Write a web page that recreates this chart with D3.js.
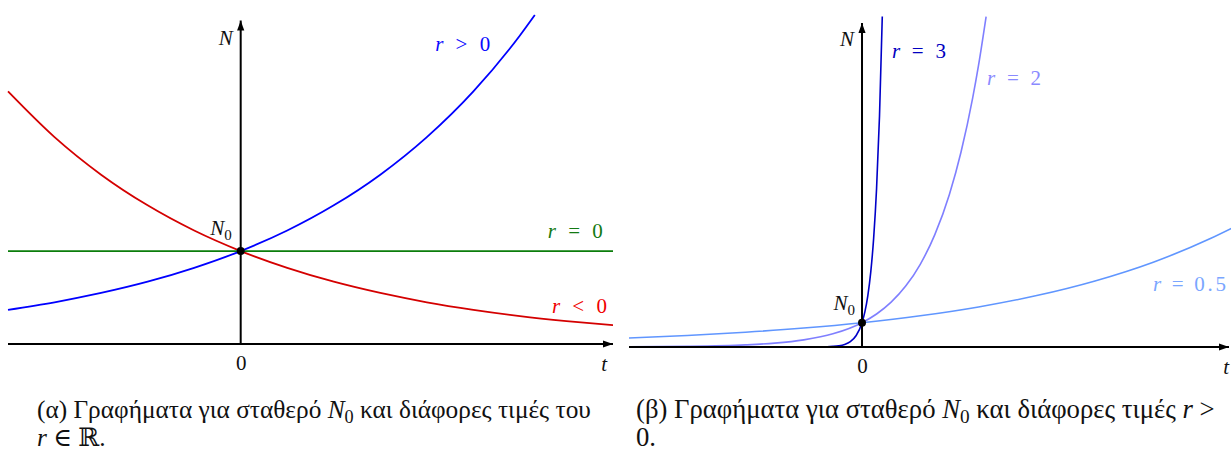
<!DOCTYPE html>
<html>
<head>
<meta charset="utf-8">
<script src="https://cdn.jsdelivr.net/npm/d3@7"></script>
<style>
  html, body { margin: 0; padding: 0; background: #fff; }
  svg { display: block; }
</style>
</head>
<body>
<svg id="chart" width="1231" height="456"></svg>
<script>
// ---------- data: exponential growth N(t) = N0·e^{rt}, N0 = 1 ----------
// panel (α): one growing, one flat and one decaying population
const tGrowA  = [-2.5, -2, -1.5, -1, -0.5, 0, 0.5, 1, 1.5, 2, 2.5, 3, 3.16];
const nGrowA  = [0.368, 0.449, 0.549, 0.670, 0.819, 1, 1.221, 1.492, 1.822, 2.226, 2.718, 3.320, 3.54];
const tFlatA  = [-2.5, 4];
const nFlatA  = [1, 1];
const tDecayA = [-2.5, -2, -1.5, -1, -0.5, 0, 0.5, 1, 1.5, 2, 2.5, 3, 3.5, 4];
const nDecayA = [2.718, 2.226, 1.822, 1.492, 1.221, 1, 0.819, 0.670, 0.549, 0.449, 0.368, 0.301, 0.247, 0.202];
const labelsA = ["r > 0", "r = 0", "r < 0"];

// panel (β): three positive rates
const tR3  = [-2, -1, -0.5, -0.3, -0.25, -0.2, -0.15, -0.1, -0.05, 0, 0.025, 0.05, 0.075, 0.1, 0.125, 0.15, 0.174];
const nR3  = [0, 0, 0.0006, 0.011, 0.024, 0.050, 0.105, 0.223, 0.472, 1, 1.455, 2.117, 3.080, 4.482, 6.521, 9.488, 13.60];
const tR2  = [-2, -1.5, -1, -0.75, -0.5, -0.25, 0, 0.125, 0.25, 0.375, 0.5, 0.625, 0.75, 0.85, 0.95, 1.0, 1.065];
const nR2  = [0.0075, 0.025, 0.086, 0.159, 0.294, 0.542, 1, 1.358, 1.846, 2.506, 3.404, 4.624, 6.278, 8.024, 10.25, 11.59, 13.59];
const tR05 = [-2, -1.5, -1, -0.5, 0, 0.5, 1, 1.5, 2, 2.5, 3, 3.17];
const nR05 = [0.368, 0.472, 0.607, 0.779, 1, 1.284, 1.649, 2.117, 2.718, 3.490, 4.482, 4.876];
const labelsB = ["r = 3", "r = 2", "r = 0.5"];

const N0 = 1;
const tickLabels = [0];

// ---------- drawing ----------
const SERIF = "'Liberation Serif', 'Times New Roman', 'DejaVu Serif', serif";

const svg = d3.select("#chart");
const defs = svg.append("defs");
defs.append("marker")
    .attr("id", "arrow")
    .attr("viewBox", "0 -4 10 8")
    .attr("refX", 10).attr("refY", 0)
    .attr("markerWidth", 10).attr("markerHeight", 8)
    .attr("markerUnits", "userSpaceOnUse")
    .attr("orient", "auto")
  .append("path")
    .attr("d", "M0,-3.6L10,0L0,3.6Z")
    .attr("fill", "#000");

// label text such as "r > 0": italic variable, upright relation and number
function mathLabel(g, str, x, y, anchor, width, color) {
  const [v, rel, num] = str.split(" ");
  const t = g.append("text")
      .style("font-family", SERIF)
      .attr("x", x).attr("y", y)
      .attr("text-anchor", anchor)
      .attr("font-size", 21)
      .attr("fill", color);
  t.append("tspan").style("font-style", "italic").text(v);
  t.append("tspan").text(" " + rel + " ");
  t.append("tspan").text(num);
  if (width) t.attr("textLength", width).attr("lengthAdjust", "spacing");
  return t;
}

function drawPanel(cfg) {
  const g = svg.append("g");
  const x = d3.scaleLinear().domain(cfg.tDomain).range(cfg.xRange);
  const y = d3.scaleLinear().domain(cfg.nDomain).range(cfg.yRange);
  const line = d3.line().x(d => x(d[0])).y(d => y(d[1])).curve(d3.curveMonotoneX);

  // curves
  cfg.series.forEach(s => {
    g.append("path")
      .datum(d3.zip(s.t, s.n))
      .attr("d", line)
      .attr("fill", "none")
      .attr("stroke", s.color)
      .attr("stroke-width", cfg.curveWidth);
  });

  // axes with arrow heads
  g.append("line")
    .attr("x1", x(cfg.tDomain[0])).attr("x2", x(cfg.tDomain[1]))
    .attr("y1", y(0)).attr("y2", y(0))
    .attr("stroke", "#000").attr("stroke-width", 2)
    .attr("marker-end", "url(#arrow)");
  g.append("line")
    .attr("x1", x(0)).attr("x2", x(0))
    .attr("y1", y(0)).attr("y2", y(cfg.nAxisTop))
    .attr("stroke", "#000").attr("stroke-width", 2)
    .attr("marker-end", "url(#arrow)");

  // tick label "0" under the origin
  const ax = g.append("g")
    .attr("transform", `translate(0,${y(0)})`)
    .call(d3.axisBottom(x).tickValues(tickLabels).tickFormat(d3.format("d"))
      .tickSize(0).tickPadding(11));
  ax.select(".domain").remove();
  ax.selectAll("text")
    .style("font-family", SERIF)
    .attr("font-size", 21)
    .attr("fill", "#111");

  // axis names
  g.append("text").style("font-family", SERIF)
    .attr("x", x(0) - 8).attr("y", cfg.nNameY)
    .attr("text-anchor", "end").attr("font-size", 21)
    .style("font-style", "italic").attr("fill", "#111").text("N");
  g.append("text").style("font-family", SERIF)
    .attr("x", x(cfg.tDomain[1]) - cfg.tNameInset).attr("y", y(0) + 27)
    .attr("text-anchor", "end").attr("font-size", 21)
    .style("font-style", "italic").attr("fill", "#111").text("t");

  // initial value N0
  g.append("circle")
    .attr("cx", x(0)).attr("cy", y(N0)).attr("r", 4)
    .attr("fill", "#000");
  const n0 = g.append("text").style("font-family", SERIF)
    .attr("x", x(0) - cfg.n0Offset[0]).attr("y", y(N0) - cfg.n0Offset[1])
    .attr("text-anchor", "end").attr("font-size", 21).attr("fill", "#111");
  n0.append("tspan").style("font-style", "italic").text("N");
  n0.append("tspan").attr("font-size", 15).attr("dy", 5).text("0");

  // curve labels
  cfg.series.forEach(s => {
    if (!s.label) return;
    mathLabel(g, s.label, x(s.at[0]), y(s.at[1]), s.anchor, s.width, s.labelColor);
  });
}

drawPanel({
  tDomain: [-2.5, 4], xRange: [8, 613],
  nDomain: [0, 3.54], yRange: [344, 15],
  nAxisTop: 3.48, nNameY: 45, tNameInset: 6,
  n0Offset: [9, 16], curveWidth: 1.8,
  series: [
    { t: tDecayA, n: nDecayA, color: "#d40000", label: labelsA[2], labelColor: "#f00000",
      at: [3.935, 0.334], anchor: "end", width: 55 },
    { t: tFlatA, n: nFlatA, color: "#0b7d0b", label: labelsA[1], labelColor: "#137a13",
      at: [3.89, 1.14], anchor: "end", width: 55 },
    { t: tGrowA, n: nGrowA, color: "#0000ff", label: labelsA[0], labelColor: "#0a0aff",
      at: [2.68, 3.153], anchor: "end", width: 55 }
  ]
});

drawPanel({
  tDomain: [-2, 3.15], xRange: [629, 1229],
  nDomain: [0, 13.62], yRange: [347, 16],
  nAxisTop: 13.33, nNameY: 46, tNameInset: 0,
  n0Offset: [7, 13], curveWidth: 1.6,
  series: [
    { t: tR05, n: nR05, color: "#6096ff", label: labelsB[2], labelColor: "#7aa6ff",
      at: [3.124, 2.30], anchor: "end", width: 73 },
    { t: tR2, n: nR2, color: "#7f7fff", label: labelsB[1], labelColor: "#8a8aff",
      at: [1.073, 10.78], anchor: "start", width: 54 },
    { t: tR3, n: nR3, color: "#0000c8", label: labelsB[0], labelColor: "#0000c0",
      at: [0.257, 11.89], anchor: "start", width: 54 }
  ]
});

// ---------- captions ----------
function caption(x, y0, lineGap, target, lines) {
  const g = svg.append("g");
  const texts = lines.map((parts, i) => {
    const t = g.append("text").style("font-family", SERIF).attr("fill", "#111")
      .attr("x", x).attr("y", y0 + i * lineGap).attr("font-size", 22);
    let shifted = false;
    parts.forEach(p => {
      const ts = t.append("tspan").text(p.text);
      if (p.italic) ts.style("font-style", "italic");
      if (p.sub) { ts.attr("font-size", "0.72em").attr("dy", 5); shifted = true; }
      else if (shifted) { ts.attr("dy", -5); shifted = false; }
    });
    return t;
  });
  const w = texts[0].node().getComputedTextLength();
  const fs = 22 * target / w;
  texts.forEach(t => t.attr("font-size", fs));
}

caption(37, 418, 28, 554, [
  [{ text: "(α) Γραφήματα για σταθερό " }, { text: "N", italic: true }, { text: "0", sub: true },
   { text: " και διάφορες τιμές του" }],
  [{ text: "r", italic: true }, { text: " ∈ ℝ." }]
]);
caption(636, 418, 28, 579, [
  [{ text: "(β) Γραφήματα για σταθερό " }, { text: "N", italic: true }, { text: "0", sub: true },
   { text: " και διάφορες τιμές " }, { text: "r", italic: true }, { text: " >" }],
  [{ text: "0." }]
]);
</script>
</body>
</html>
